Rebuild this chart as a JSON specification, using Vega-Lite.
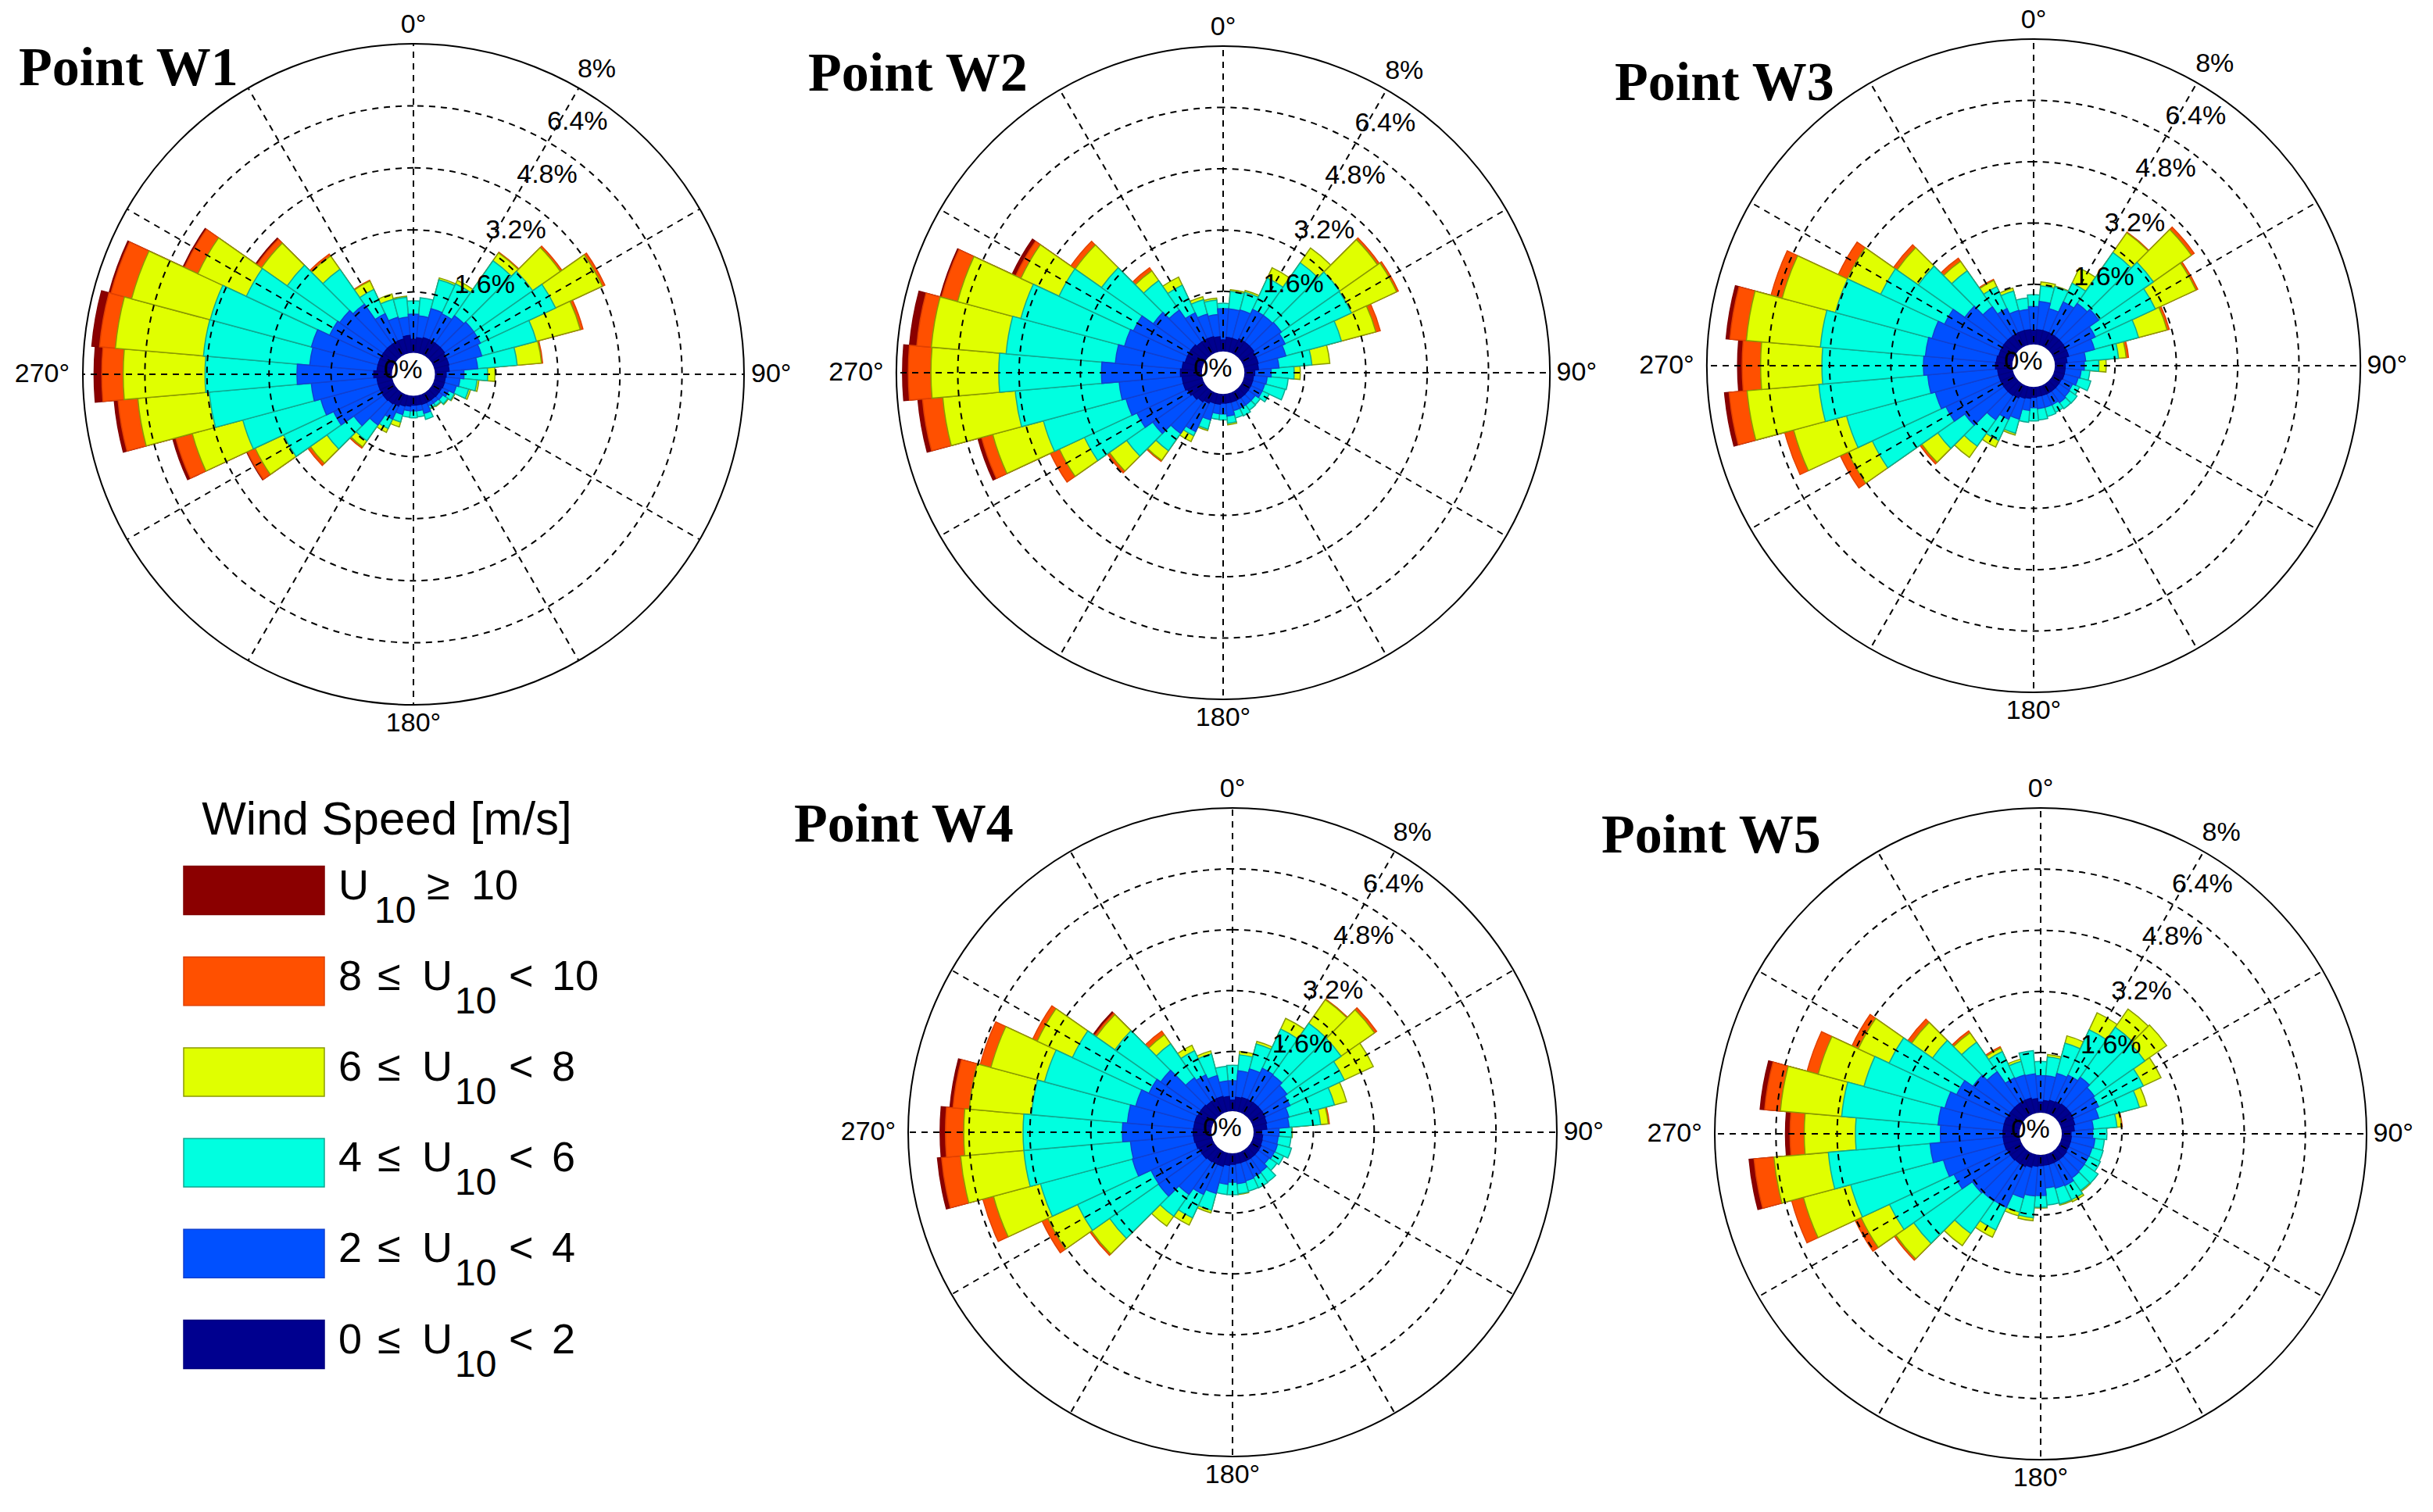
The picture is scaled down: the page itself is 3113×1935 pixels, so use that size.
{"$schema":"https://vega.github.io/schema/vega-lite/v6.json","background":"white","padding":0,"spacing":0,"bounds":"flush","align":"none","columns":3,
"config":{"view":{"stroke":null},"axis":{"disable":true},"legend":{"disable":true},"text":{"font":"Liberation Sans","fontSize":34,"color":"#000"},"title":{"font":"Liberation Serif","fontWeight":"bold","fontSize":70,"color":"#000","anchor":"start","frame":"group","baseline":"alphabetic"}},
"concat":[
{"width":1058,"height":958,"title":{"text":"Point W1","dx":24,"offset":-124},
"encoding":{"x":{"datum":0,"type":"quantitative","scale":{"domain":[-1,1],"range":[106,952]}},"y":{"datum":0,"type":"quantitative","scale":{"domain":[-1,1],"range":[902,56]}}},
"layer":[
{"data":{"name":"w1"},"transform":[{"bin":{"step":10,"anchor":5,"extent":[-5,355],"nice":false},"field":"d","as":["a0","a1"]}],"mark":{"type":"arc","strokeWidth":1.5},"encoding":{"theta":{"field":"a0","type":"quantitative","scale":{"domain":[0,360]}},"theta2":{"field":"a1"},"radius":{"field":"cum","type":"quantitative","stack":null,"scale":{"domain":[0,8],"range":[26,423]}},"radius2":{"datum":0},"color":{"field":"u","type":"ordinal","scale":{"domain":[0,2,4,6,8,10],"range":["#00008f","#0050ff","#00ffe0","#e0ff00","#ff5000","#8b0000"]}},"stroke":{"field":"u","type":"ordinal","scale":{"domain":[0,2,4,6,8,10],"range":["#000080","#1040d0","#10a890","#8a9a00","#e04000","#800000"]}},"order":{"field":"u","sort":"descending"}}},
{"data":{"name":"rings"},"mark":{"type":"arc","filled":false,"stroke":"#000","strokeWidth":2,"strokeDash":[8,7]},"encoding":{"radius":{"field":"v","type":"quantitative","stack":null}}},
{"data":{"name":"rim"},"mark":{"type":"arc","filled":false,"stroke":"#000","strokeWidth":2},"encoding":{"radius":{"field":"v","type":"quantitative","stack":null}}},
{"data":{"name":"spokes"},"mark":{"type":"rule","stroke":"#000","strokeWidth":2,"strokeDash":[8,7]},"encoding":{"x":{"field":"x1","type":"quantitative"},"x2":{"field":"x2"},"y":{"field":"y1","type":"quantitative"},"y2":{"field":"y2"}}},
{"data":{"name":"hole"},"mark":{"type":"arc","color":"#fff","radius":27.5,"radius2":0}},
{"data":{"name":"angles"},"mark":{"type":"text"},"encoding":{"theta":{"field":"a","type":"quantitative"},"radius":{"field":"r","type":"quantitative","stack":null},"text":{"field":"t"}}},
{"data":{"name":"pct"},"mark":{"type":"text"},"encoding":{"theta":{"field":"a","type":"quantitative"},"radius":{"field":"r","type":"quantitative","stack":null},"text":{"field":"t"}}}
]},
{"width":1014,"height":958,"title":{"text":"Point W2","dx":-24,"offset":-131},
"encoding":{"x":{"datum":0,"type":"quantitative","scale":{"domain":[-1,1],"range":[89,925]}},"y":{"datum":0,"type":"quantitative","scale":{"domain":[-1,1],"range":[895,59]}}},
"layer":[
{"data":{"name":"w2"},"transform":[{"bin":{"step":10,"anchor":5,"extent":[-5,355],"nice":false},"field":"d","as":["a0","a1"]}],"mark":{"type":"arc","strokeWidth":1.5},"encoding":{"theta":{"field":"a0","type":"quantitative","scale":{"domain":[0,360]}},"theta2":{"field":"a1"},"radius":{"field":"cum","type":"quantitative","stack":null,"scale":{"domain":[0,8],"range":[25.7,418]}},"radius2":{"datum":0},"color":{"field":"u","type":"ordinal","scale":{"domain":[0,2,4,6,8,10],"range":["#00008f","#0050ff","#00ffe0","#e0ff00","#ff5000","#8b0000"]}},"stroke":{"field":"u","type":"ordinal","scale":{"domain":[0,2,4,6,8,10],"range":["#000080","#1040d0","#10a890","#8a9a00","#e04000","#800000"]}},"order":{"field":"u","sort":"descending"}}},
{"data":{"name":"rings"},"mark":{"type":"arc","filled":false,"stroke":"#000","strokeWidth":2,"strokeDash":[8,7]},"encoding":{"radius":{"field":"v","type":"quantitative","stack":null}}},
{"data":{"name":"rim"},"mark":{"type":"arc","filled":false,"stroke":"#000","strokeWidth":2},"encoding":{"radius":{"field":"v","type":"quantitative","stack":null}}},
{"data":{"name":"spokes"},"mark":{"type":"rule","stroke":"#000","strokeWidth":2,"strokeDash":[8,7]},"encoding":{"x":{"field":"x1","type":"quantitative"},"x2":{"field":"x2"},"y":{"field":"y1","type":"quantitative"},"y2":{"field":"y2"}}},
{"data":{"name":"hole"},"mark":{"type":"arc","color":"#fff","radius":27.2,"radius2":0}},
{"data":{"name":"angles"},"mark":{"type":"text"},"encoding":{"theta":{"field":"a","type":"quantitative"},"radius":{"field":"r","type":"quantitative","stack":null},"text":{"field":"t"}}},
{"data":{"name":"pct"},"mark":{"type":"text"},"encoding":{"theta":{"field":"a","type":"quantitative"},"radius":{"field":"r","type":"quantitative","stack":null},"text":{"field":"t"}}}
]},
{"width":1041,"height":958,"title":{"text":"Point W3","dx":-6,"offset":-143},
"encoding":{"x":{"datum":0,"type":"quantitative","scale":{"domain":[-1,1],"range":[112,948]}},"y":{"datum":0,"type":"quantitative","scale":{"domain":[-1,1],"range":[886,50]}}},
"layer":[
{"data":{"name":"w3"},"transform":[{"bin":{"step":10,"anchor":5,"extent":[-5,355],"nice":false},"field":"d","as":["a0","a1"]}],"mark":{"type":"arc","strokeWidth":1.5},"encoding":{"theta":{"field":"a0","type":"quantitative","scale":{"domain":[0,360]}},"theta2":{"field":"a1"},"radius":{"field":"cum","type":"quantitative","stack":null,"scale":{"domain":[0,8],"range":[25.7,418]}},"radius2":{"datum":0},"color":{"field":"u","type":"ordinal","scale":{"domain":[0,2,4,6,8,10],"range":["#00008f","#0050ff","#00ffe0","#e0ff00","#ff5000","#8b0000"]}},"stroke":{"field":"u","type":"ordinal","scale":{"domain":[0,2,4,6,8,10],"range":["#000080","#1040d0","#10a890","#8a9a00","#e04000","#800000"]}},"order":{"field":"u","sort":"descending"}}},
{"data":{"name":"rings"},"mark":{"type":"arc","filled":false,"stroke":"#000","strokeWidth":2,"strokeDash":[8,7]},"encoding":{"radius":{"field":"v","type":"quantitative","stack":null}}},
{"data":{"name":"rim"},"mark":{"type":"arc","filled":false,"stroke":"#000","strokeWidth":2},"encoding":{"radius":{"field":"v","type":"quantitative","stack":null}}},
{"data":{"name":"spokes"},"mark":{"type":"rule","stroke":"#000","strokeWidth":2,"strokeDash":[8,7]},"encoding":{"x":{"field":"x1","type":"quantitative"},"x2":{"field":"x2"},"y":{"field":"y1","type":"quantitative"},"y2":{"field":"y2"}}},
{"data":{"name":"hole"},"mark":{"type":"arc","color":"#fff","radius":27.2,"radius2":0}},
{"data":{"name":"angles"},"mark":{"type":"text"},"encoding":{"theta":{"field":"a","type":"quantitative"},"radius":{"field":"r","type":"quantitative","stack":null},"text":{"field":"t"}}},
{"data":{"name":"pct"},"mark":{"type":"text"},"encoding":{"theta":{"field":"a","type":"quantitative"},"radius":{"field":"r","type":"quantitative","stack":null},"text":{"field":"t"}}}
]},
{"width":1058,"height":977,
"encoding":{"y":{"field":"u","type":"nominal","scale":{"type":"point","padding":0,"domain":["head",10,8,6,4,2,0],"range":[65.3,762.5]}}},
"layer":[
{"data":{"name":"swatches"},"mark":{"type":"rect","height":62,"strokeWidth":1.5},"encoding":{"x":{"datum":235,"type":"quantitative","scale":{"domain":[0,1058],"range":[0,1058],"nice":false}},"x2":{"datum":415},"color":{"field":"u","type":"ordinal","scale":{"domain":[0,2,4,6,8,10],"range":["#00008f","#0050ff","#00ffe0","#e0ff00","#ff5000","#8b0000"]}},"stroke":{"field":"u","type":"ordinal","scale":{"domain":[0,2,4,6,8,10],"range":["#000080","#1040d0","#10a890","#8a9a00","#e04000","#800000"]}}}},
{"data":{"values":[{"u":"head","t":"Wind Speed [m/s]"}]},"mark":{"type":"text","fontSize":60,"dy":27},"encoding":{"x":{"datum":495,"type":"quantitative"},"text":{"field":"t"}}},
{"data":{"name":"top"},"mark":{"type":"text","fontSize":54,"align":"left","baseline":"alphabetic","dy":11,"text":"U"},"encoding":{"x":{"datum":433,"type":"quantitative"}}},
{"data":{"name":"top"},"mark":{"type":"text","fontSize":48,"align":"left","baseline":"alphabetic","dy":41,"text":"10"},"encoding":{"x":{"datum":479,"type":"quantitative"}}},
{"data":{"name":"top"},"mark":{"type":"text","fontSize":54,"align":"left","baseline":"alphabetic","dy":11,"text":"≥"},"encoding":{"x":{"datum":546,"type":"quantitative"}}},
{"data":{"name":"top"},"mark":{"type":"text","fontSize":54,"align":"left","baseline":"alphabetic","dy":11},"encoding":{"x":{"datum":603,"type":"quantitative"},"text":{"field":"hi"}}},
{"data":{"name":"ranges"},"mark":{"type":"text","fontSize":54,"align":"left","baseline":"alphabetic","dy":11},"encoding":{"x":{"datum":433,"type":"quantitative"},"text":{"field":"lo"}}},
{"data":{"name":"ranges"},"mark":{"type":"text","fontSize":54,"align":"left","baseline":"alphabetic","dy":11,"text":"≤"},"encoding":{"x":{"datum":483,"type":"quantitative"}}},
{"data":{"name":"ranges"},"mark":{"type":"text","fontSize":54,"align":"left","baseline":"alphabetic","dy":11,"text":"U"},"encoding":{"x":{"datum":540,"type":"quantitative"}}},
{"data":{"name":"ranges"},"mark":{"type":"text","fontSize":48,"align":"left","baseline":"alphabetic","dy":41,"text":"10"},"encoding":{"x":{"datum":582,"type":"quantitative"}}},
{"data":{"name":"ranges"},"mark":{"type":"text","fontSize":54,"align":"left","baseline":"alphabetic","dy":11,"text":"<"},"encoding":{"x":{"datum":651,"type":"quantitative"}}},
{"data":{"name":"ranges"},"mark":{"type":"text","fontSize":54,"align":"left","baseline":"alphabetic","dy":11},"encoding":{"x":{"datum":706,"type":"quantitative"},"text":{"field":"hi"}}}
]},
{"width":1014,"height":977,"title":{"text":"Point W4","dx":-42,"offset":-134},
"encoding":{"x":{"datum":0,"type":"quantitative","scale":{"domain":[-1,1],"range":[104,934]}},"y":{"datum":0,"type":"quantitative","scale":{"domain":[-1,1],"range":[906,76]}}},
"layer":[
{"data":{"name":"w4"},"transform":[{"bin":{"step":10,"anchor":5,"extent":[-5,355],"nice":false},"field":"d","as":["a0","a1"]}],"mark":{"type":"arc","strokeWidth":1.5},"encoding":{"theta":{"field":"a0","type":"quantitative","scale":{"domain":[0,360]}},"theta2":{"field":"a1"},"radius":{"field":"cum","type":"quantitative","stack":null,"scale":{"domain":[0,8],"range":[25.5,415]}},"radius2":{"datum":0},"color":{"field":"u","type":"ordinal","scale":{"domain":[0,2,4,6,8,10],"range":["#00008f","#0050ff","#00ffe0","#e0ff00","#ff5000","#8b0000"]}},"stroke":{"field":"u","type":"ordinal","scale":{"domain":[0,2,4,6,8,10],"range":["#000080","#1040d0","#10a890","#8a9a00","#e04000","#800000"]}},"order":{"field":"u","sort":"descending"}}},
{"data":{"name":"rings"},"mark":{"type":"arc","filled":false,"stroke":"#000","strokeWidth":2,"strokeDash":[8,7]},"encoding":{"radius":{"field":"v","type":"quantitative","stack":null}}},
{"data":{"name":"rim"},"mark":{"type":"arc","filled":false,"stroke":"#000","strokeWidth":2},"encoding":{"radius":{"field":"v","type":"quantitative","stack":null}}},
{"data":{"name":"spokes"},"mark":{"type":"rule","stroke":"#000","strokeWidth":2,"strokeDash":[8,7]},"encoding":{"x":{"field":"x1","type":"quantitative"},"x2":{"field":"x2"},"y":{"field":"y1","type":"quantitative"},"y2":{"field":"y2"}}},
{"data":{"name":"hole"},"mark":{"type":"arc","color":"#fff","radius":27,"radius2":0}},
{"data":{"name":"angles"},"mark":{"type":"text"},"encoding":{"theta":{"field":"a","type":"quantitative"},"radius":{"field":"r","type":"quantitative","stack":null},"text":{"field":"t"}}},
{"data":{"name":"pct"},"mark":{"type":"text"},"encoding":{"theta":{"field":"a","type":"quantitative"},"radius":{"field":"r","type":"quantitative","stack":null},"text":{"field":"t"}}}
]},
{"width":1041,"height":977,"title":{"text":"Point W5","dx":-23,"offset":-148},
"encoding":{"x":{"datum":0,"type":"quantitative","scale":{"domain":[-1,1],"range":[122,956]}},"y":{"datum":0,"type":"quantitative","scale":{"domain":[-1,1],"range":[910,76]}}},
"layer":[
{"data":{"name":"w5"},"transform":[{"bin":{"step":10,"anchor":5,"extent":[-5,355],"nice":false},"field":"d","as":["a0","a1"]}],"mark":{"type":"arc","strokeWidth":1.5},"encoding":{"theta":{"field":"a0","type":"quantitative","scale":{"domain":[0,360]}},"theta2":{"field":"a1"},"radius":{"field":"cum","type":"quantitative","stack":null,"scale":{"domain":[0,8],"range":[25.6,417]}},"radius2":{"datum":0},"color":{"field":"u","type":"ordinal","scale":{"domain":[0,2,4,6,8,10],"range":["#00008f","#0050ff","#00ffe0","#e0ff00","#ff5000","#8b0000"]}},"stroke":{"field":"u","type":"ordinal","scale":{"domain":[0,2,4,6,8,10],"range":["#000080","#1040d0","#10a890","#8a9a00","#e04000","#800000"]}},"order":{"field":"u","sort":"descending"}}},
{"data":{"name":"rings"},"mark":{"type":"arc","filled":false,"stroke":"#000","strokeWidth":2,"strokeDash":[8,7]},"encoding":{"radius":{"field":"v","type":"quantitative","stack":null}}},
{"data":{"name":"rim"},"mark":{"type":"arc","filled":false,"stroke":"#000","strokeWidth":2},"encoding":{"radius":{"field":"v","type":"quantitative","stack":null}}},
{"data":{"name":"spokes"},"mark":{"type":"rule","stroke":"#000","strokeWidth":2,"strokeDash":[8,7]},"encoding":{"x":{"field":"x1","type":"quantitative"},"x2":{"field":"x2"},"y":{"field":"y1","type":"quantitative"},"y2":{"field":"y2"}}},
{"data":{"name":"hole"},"mark":{"type":"arc","color":"#fff","radius":27.1,"radius2":0}},
{"data":{"name":"angles"},"mark":{"type":"text"},"encoding":{"theta":{"field":"a","type":"quantitative"},"radius":{"field":"r","type":"quantitative","stack":null},"text":{"field":"t"}}},
{"data":{"name":"pct"},"mark":{"type":"text"},"encoding":{"theta":{"field":"a","type":"quantitative"},"radius":{"field":"r","type":"quantitative","stack":null},"text":{"field":"t"}}}
]}
],
"datasets":{
"rings":[{"v":1.6},{"v":3.2},{"v":4.8},{"v":6.4}],
"rim":[{"v":8}],
"hole":[{"v":0}],
"spokes":[{"x1":0,"y1":0.0615,"x2":0,"y2":1},{"x1":0.0308,"y1":0.0533,"x2":0.5,"y2":0.866},{"x1":0.0533,"y1":0.0308,"x2":0.866,"y2":0.5},{"x1":0.0615,"y1":0,"x2":1,"y2":0},{"x1":0.0533,"y1":-0.0308,"x2":0.866,"y2":-0.5},{"x1":0.0308,"y1":-0.0533,"x2":0.5,"y2":-0.866},{"x1":0,"y1":-0.0615,"x2":0,"y2":-1},{"x1":-0.0308,"y1":-0.0533,"x2":-0.5,"y2":-0.866},{"x1":-0.0533,"y1":-0.0308,"x2":-0.866,"y2":-0.5},{"x1":-0.0615,"y1":0,"x2":-1,"y2":0},{"x1":-0.0533,"y1":0.0308,"x2":-0.866,"y2":0.5},{"x1":-0.0308,"y1":0.0533,"x2":-0.5,"y2":0.866}],
"angles":[{"a":0,"t":"0°","r":8.49},{"a":90,"t":"90°","r":8.7},{"a":180,"t":"180°","r":8.49},{"a":270,"t":"270°","r":9.05}],
"pct":[{"t":"0%","a":291,"r":-0.24},{"t":"1.6%","a":38.6,"r":2.42},{"t":"3.2%","a":35.4,"r":4.03},{"t":"4.8%","a":33.8,"r":5.67},{"t":"6.4%","a":33,"r":7.24},{"t":"8%","a":31,"r":8.65}],
"swatches":[{"u":10},{"u":8},{"u":6},{"u":4},{"u":2},{"u":0}],
"top":[{"u":10,"hi":"10"}],
"ranges":[{"u":8,"lo":"8","hi":"10"},{"u":6,"lo":"6","hi":"8"},{"u":4,"lo":"4","hi":"6"},{"u":2,"lo":"2","hi":"4"},{"u":0,"lo":"0","hi":"2"}],
"w1":[{"d":0,"u":0,"cum":0.38},{"d":0,"u":2,"cum":1.03},{"d":0,"u":4,"cum":1.37},{"d":10,"u":0,"cum":0.42},{"d":10,"u":2,"cum":0.99},{"d":10,"u":4,"cum":1.46},{"d":20,"u":0,"cum":0.45},{"d":20,"u":2,"cum":1.23},{"d":20,"u":4,"cum":2.0},{"d":20,"u":6,"cum":2.05},{"d":30,"u":0,"cum":0.45},{"d":30,"u":2,"cum":1.2},{"d":30,"u":4,"cum":2.05},{"d":30,"u":6,"cum":2.15},{"d":40,"u":0,"cum":0.45},{"d":40,"u":2,"cum":1.32},{"d":40,"u":4,"cum":3.05},{"d":40,"u":6,"cum":3.3},{"d":40,"u":8,"cum":3.32},{"d":50,"u":0,"cum":0.45},{"d":50,"u":2,"cum":1.38},{"d":50,"u":4,"cum":3.23},{"d":50,"u":6,"cum":4.1},{"d":50,"u":8,"cum":4.15},{"d":60,"u":0,"cum":0.42},{"d":60,"u":2,"cum":1.38},{"d":60,"u":4,"cum":3.52},{"d":60,"u":6,"cum":4.85},{"d":60,"u":8,"cum":4.92},{"d":70,"u":0,"cum":0.42},{"d":70,"u":2,"cum":1.3},{"d":70,"u":4,"cum":2.76},{"d":70,"u":6,"cum":3.93},{"d":70,"u":8,"cum":4.0},{"d":80,"u":0,"cum":0.4},{"d":80,"u":2,"cum":1.14},{"d":80,"u":4,"cum":2.16},{"d":80,"u":6,"cum":2.79},{"d":80,"u":8,"cum":2.82},{"d":90,"u":0,"cum":0.32},{"d":90,"u":2,"cum":0.78},{"d":90,"u":4,"cum":1.39},{"d":90,"u":6,"cum":1.58},{"d":100,"u":0,"cum":0.3},{"d":100,"u":2,"cum":0.68},{"d":100,"u":4,"cum":1.12},{"d":100,"u":6,"cum":1.17},{"d":110,"u":0,"cum":0.3},{"d":110,"u":2,"cum":0.62},{"d":110,"u":4,"cum":0.95},{"d":110,"u":6,"cum":1.0},{"d":120,"u":0,"cum":0.28},{"d":120,"u":2,"cum":0.48},{"d":120,"u":4,"cum":0.64},{"d":120,"u":6,"cum":0.66},{"d":130,"u":0,"cum":0.28},{"d":130,"u":2,"cum":0.4},{"d":130,"u":4,"cum":0.56},{"d":130,"u":6,"cum":0.58},{"d":140,"u":0,"cum":0.27},{"d":140,"u":2,"cum":0.38},{"d":140,"u":4,"cum":0.47},{"d":140,"u":6,"cum":0.49},{"d":150,"u":0,"cum":0.27},{"d":150,"u":2,"cum":0.38},{"d":150,"u":4,"cum":0.45},{"d":150,"u":6,"cum":0.47},{"d":160,"u":0,"cum":0.28},{"d":160,"u":2,"cum":0.52},{"d":160,"u":4,"cum":0.68},{"d":170,"u":0,"cum":0.27},{"d":170,"u":2,"cum":0.42},{"d":170,"u":4,"cum":0.58},{"d":180,"u":0,"cum":0.27},{"d":180,"u":2,"cum":0.42},{"d":180,"u":4,"cum":0.6},{"d":190,"u":0,"cum":0.3},{"d":190,"u":2,"cum":0.42},{"d":190,"u":4,"cum":0.59},{"d":200,"u":0,"cum":0.32},{"d":200,"u":2,"cum":0.55},{"d":200,"u":4,"cum":0.75},{"d":200,"u":6,"cum":0.88},{"d":210,"u":0,"cum":0.38},{"d":210,"u":2,"cum":0.75},{"d":210,"u":4,"cum":1.02},{"d":210,"u":6,"cum":1.13},{"d":220,"u":0,"cum":0.4},{"d":220,"u":2,"cum":1.07},{"d":220,"u":4,"cum":1.57},{"d":220,"u":6,"cum":1.76},{"d":220,"u":8,"cum":1.8},{"d":230,"u":0,"cum":0.42},{"d":230,"u":2,"cum":1.35},{"d":230,"u":4,"cum":2.2},{"d":230,"u":6,"cum":2.72},{"d":230,"u":8,"cum":2.8},{"d":240,"u":0,"cum":0.42},{"d":240,"u":2,"cum":1.75},{"d":240,"u":4,"cum":3.17},{"d":240,"u":6,"cum":3.98},{"d":240,"u":8,"cum":4.2},{"d":240,"u":10,"cum":4.22},{"d":250,"u":0,"cum":0.42},{"d":250,"u":2,"cum":1.95},{"d":250,"u":4,"cum":4.03},{"d":250,"u":6,"cum":5.38},{"d":250,"u":8,"cum":5.82},{"d":250,"u":10,"cum":5.9},{"d":260,"u":0,"cum":0.42},{"d":260,"u":2,"cum":2.12},{"d":260,"u":4,"cum":4.76},{"d":260,"u":6,"cum":6.61},{"d":260,"u":8,"cum":7.12},{"d":260,"u":10,"cum":7.22},{"d":270,"u":0,"cum":0.5},{"d":270,"u":2,"cum":2.48},{"d":270,"u":4,"cum":4.85},{"d":270,"u":6,"cum":6.96},{"d":270,"u":8,"cum":7.51},{"d":270,"u":10,"cum":7.71},{"d":280,"u":0,"cum":0.42},{"d":280,"u":2,"cum":2.16},{"d":280,"u":4,"cum":4.91},{"d":280,"u":6,"cum":7.19},{"d":280,"u":8,"cum":7.6},{"d":280,"u":10,"cum":7.8},{"d":290,"u":0,"cum":0.42},{"d":290,"u":2,"cum":2.2},{"d":290,"u":4,"cum":4.9},{"d":290,"u":6,"cum":7.0},{"d":290,"u":8,"cum":7.55},{"d":290,"u":10,"cum":7.6},{"d":300,"u":0,"cum":0.42},{"d":300,"u":2,"cum":1.86},{"d":300,"u":4,"cum":4.23},{"d":300,"u":6,"cum":5.61},{"d":300,"u":8,"cum":5.99},{"d":300,"u":10,"cum":6.03},{"d":310,"u":0,"cum":0.42},{"d":310,"u":2,"cum":1.8},{"d":310,"u":4,"cum":3.45},{"d":310,"u":6,"cum":4.26},{"d":310,"u":8,"cum":4.4},{"d":310,"u":10,"cum":4.44},{"d":320,"u":0,"cum":0.42},{"d":320,"u":2,"cum":1.68},{"d":320,"u":4,"cum":2.78},{"d":320,"u":6,"cum":3.2},{"d":320,"u":8,"cum":3.26},{"d":330,"u":0,"cum":0.42},{"d":330,"u":2,"cum":1.2},{"d":330,"u":4,"cum":1.89},{"d":330,"u":6,"cum":2.13},{"d":330,"u":8,"cum":2.15},{"d":340,"u":0,"cum":0.42},{"d":340,"u":2,"cum":1.0},{"d":340,"u":4,"cum":1.48},{"d":340,"u":6,"cum":1.62},{"d":350,"u":0,"cum":0.48},{"d":350,"u":2,"cum":0.96},{"d":350,"u":4,"cum":1.47},{"d":350,"u":6,"cum":1.5}],
"w2":[{"d":0,"u":0,"cum":0.33},{"d":0,"u":2,"cum":1.15},{"d":0,"u":4,"cum":1.29},{"d":10,"u":0,"cum":0.4},{"d":10,"u":2,"cum":1.15},{"d":10,"u":4,"cum":1.61},{"d":10,"u":6,"cum":1.65},{"d":20,"u":0,"cum":0.4},{"d":20,"u":2,"cum":1.17},{"d":20,"u":4,"cum":1.65},{"d":20,"u":6,"cum":1.7},{"d":30,"u":0,"cum":0.45},{"d":30,"u":2,"cum":1.3},{"d":30,"u":4,"cum":2.2},{"d":30,"u":6,"cum":2.5},{"d":40,"u":0,"cum":0.45},{"d":40,"u":2,"cum":1.3},{"d":40,"u":4,"cum":2.98},{"d":40,"u":6,"cum":3.45},{"d":50,"u":0,"cum":0.45},{"d":50,"u":2,"cum":1.33},{"d":50,"u":4,"cum":3.19},{"d":50,"u":6,"cum":4.39},{"d":50,"u":8,"cum":4.45},{"d":60,"u":0,"cum":0.42},{"d":60,"u":2,"cum":1.26},{"d":60,"u":4,"cum":3.17},{"d":60,"u":6,"cum":4.47},{"d":60,"u":8,"cum":4.52},{"d":70,"u":0,"cum":0.42},{"d":70,"u":2,"cum":1.17},{"d":70,"u":4,"cum":2.67},{"d":70,"u":6,"cum":3.6},{"d":70,"u":8,"cum":3.72},{"d":80,"u":0,"cum":0.4},{"d":80,"u":2,"cum":0.94},{"d":80,"u":4,"cum":1.8},{"d":80,"u":6,"cum":2.27},{"d":90,"u":0,"cum":0.3},{"d":90,"u":2,"cum":0.73},{"d":90,"u":4,"cum":1.33},{"d":90,"u":6,"cum":1.49},{"d":100,"u":0,"cum":0.27},{"d":100,"u":2,"cum":0.63},{"d":100,"u":4,"cum":1.18},{"d":110,"u":0,"cum":0.27},{"d":110,"u":2,"cum":0.6},{"d":110,"u":4,"cum":1.15},{"d":120,"u":0,"cum":0.27},{"d":120,"u":2,"cum":0.6},{"d":120,"u":4,"cum":0.8},{"d":130,"u":0,"cum":0.27},{"d":130,"u":2,"cum":0.5},{"d":130,"u":4,"cum":0.66},{"d":140,"u":0,"cum":0.27},{"d":140,"u":2,"cum":0.5},{"d":140,"u":4,"cum":0.67},{"d":150,"u":0,"cum":0.27},{"d":150,"u":2,"cum":0.5},{"d":150,"u":4,"cum":0.72},{"d":160,"u":0,"cum":0.27},{"d":160,"u":2,"cum":0.5},{"d":160,"u":4,"cum":0.7},{"d":170,"u":0,"cum":0.27},{"d":170,"u":2,"cum":0.61},{"d":170,"u":4,"cum":0.8},{"d":170,"u":6,"cum":0.84},{"d":180,"u":0,"cum":0.27},{"d":180,"u":2,"cum":0.55},{"d":180,"u":4,"cum":0.71},{"d":190,"u":0,"cum":0.3},{"d":190,"u":2,"cum":0.55},{"d":190,"u":4,"cum":0.7},{"d":200,"u":0,"cum":0.3},{"d":200,"u":2,"cum":0.75},{"d":200,"u":4,"cum":1.0},{"d":200,"u":6,"cum":1.04},{"d":210,"u":0,"cum":0.35},{"d":210,"u":2,"cum":1.17},{"d":210,"u":4,"cum":1.29},{"d":210,"u":6,"cum":1.46},{"d":220,"u":0,"cum":0.4},{"d":220,"u":2,"cum":1.41},{"d":220,"u":4,"cum":1.96},{"d":220,"u":6,"cum":2.27},{"d":220,"u":8,"cum":2.3},{"d":230,"u":0,"cum":0.45},{"d":230,"u":2,"cum":1.72},{"d":230,"u":4,"cum":2.55},{"d":230,"u":6,"cum":3.1},{"d":230,"u":8,"cum":3.17},{"d":240,"u":0,"cum":0.5},{"d":240,"u":2,"cum":1.96},{"d":240,"u":4,"cum":3.47},{"d":240,"u":6,"cum":4.19},{"d":240,"u":8,"cum":4.45},{"d":250,"u":0,"cum":0.55},{"d":250,"u":2,"cum":2.1},{"d":250,"u":4,"cum":4.33},{"d":250,"u":6,"cum":5.7},{"d":250,"u":8,"cum":6.0},{"d":250,"u":10,"cum":6.1},{"d":260,"u":0,"cum":0.55},{"d":260,"u":2,"cum":2.2},{"d":260,"u":4,"cum":4.92},{"d":260,"u":6,"cum":6.82},{"d":260,"u":8,"cum":7.35},{"d":260,"u":10,"cum":7.47},{"d":270,"u":0,"cum":0.59},{"d":270,"u":2,"cum":2.65},{"d":270,"u":4,"cum":5.33},{"d":270,"u":6,"cum":7.1},{"d":270,"u":8,"cum":7.69},{"d":270,"u":10,"cum":7.84},{"d":280,"u":0,"cum":0.55},{"d":280,"u":2,"cum":2.3},{"d":280,"u":4,"cum":5.16},{"d":280,"u":6,"cum":7.12},{"d":280,"u":8,"cum":7.5},{"d":280,"u":10,"cum":7.69},{"d":290,"u":0,"cum":0.5},{"d":290,"u":2,"cum":2.14},{"d":290,"u":4,"cum":4.94},{"d":290,"u":6,"cum":6.65},{"d":290,"u":8,"cum":7.08},{"d":290,"u":10,"cum":7.12},{"d":300,"u":0,"cum":0.5},{"d":300,"u":2,"cum":2.06},{"d":300,"u":4,"cum":4.2},{"d":300,"u":6,"cum":5.3},{"d":300,"u":8,"cum":5.45},{"d":300,"u":10,"cum":5.55},{"d":310,"u":0,"cum":0.5},{"d":310,"u":2,"cum":1.7},{"d":310,"u":4,"cum":3.35},{"d":310,"u":6,"cum":4.19},{"d":310,"u":8,"cum":4.33},{"d":320,"u":0,"cum":0.45},{"d":320,"u":2,"cum":1.47},{"d":320,"u":4,"cum":2.41},{"d":320,"u":6,"cum":2.72},{"d":320,"u":8,"cum":2.82},{"d":330,"u":0,"cum":0.45},{"d":330,"u":2,"cum":1.2},{"d":330,"u":4,"cum":2.0},{"d":330,"u":6,"cum":2.23},{"d":340,"u":0,"cum":0.45},{"d":340,"u":2,"cum":1.06},{"d":340,"u":4,"cum":1.45},{"d":340,"u":6,"cum":1.53},{"d":350,"u":0,"cum":0.42},{"d":350,"u":2,"cum":1.0},{"d":350,"u":4,"cum":1.38},{"d":350,"u":6,"cum":1.43}],
"w3":[{"d":0,"u":0,"cum":0.4},{"d":0,"u":2,"cum":1.02},{"d":0,"u":4,"cum":1.33},{"d":10,"u":0,"cum":0.42},{"d":10,"u":2,"cum":1.16},{"d":10,"u":4,"cum":1.57},{"d":10,"u":6,"cum":1.67},{"d":20,"u":0,"cum":0.42},{"d":20,"u":2,"cum":1.02},{"d":20,"u":4,"cum":1.61},{"d":20,"u":6,"cum":1.63},{"d":30,"u":0,"cum":0.42},{"d":30,"u":2,"cum":1.31},{"d":30,"u":4,"cum":1.85},{"d":30,"u":6,"cum":2.29},{"d":40,"u":0,"cum":0.42},{"d":40,"u":2,"cum":1.46},{"d":40,"u":4,"cum":3.08},{"d":40,"u":6,"cum":3.71},{"d":40,"u":8,"cum":3.73},{"d":50,"u":0,"cum":0.42},{"d":50,"u":2,"cum":1.55},{"d":50,"u":4,"cum":3.29},{"d":50,"u":6,"cum":4.5},{"d":50,"u":8,"cum":4.59},{"d":60,"u":0,"cum":0.42},{"d":60,"u":2,"cum":1.25},{"d":60,"u":4,"cum":2.98},{"d":60,"u":6,"cum":4.15},{"d":60,"u":8,"cum":4.2},{"d":70,"u":0,"cum":0.42},{"d":70,"u":2,"cum":1.12},{"d":70,"u":4,"cum":2.31},{"d":70,"u":6,"cum":3.08},{"d":70,"u":8,"cum":3.14},{"d":80,"u":0,"cum":0.35},{"d":80,"u":2,"cum":0.84},{"d":80,"u":4,"cum":1.7},{"d":80,"u":6,"cum":1.9},{"d":80,"u":8,"cum":1.96},{"d":90,"u":0,"cum":0.3},{"d":90,"u":2,"cum":0.8},{"d":90,"u":4,"cum":1.18},{"d":90,"u":6,"cum":1.37},{"d":100,"u":0,"cum":0.3},{"d":100,"u":2,"cum":0.72},{"d":100,"u":4,"cum":0.95},{"d":110,"u":0,"cum":0.3},{"d":110,"u":2,"cum":0.68},{"d":110,"u":4,"cum":1.02},{"d":120,"u":0,"cum":0.28},{"d":120,"u":2,"cum":0.6},{"d":120,"u":4,"cum":0.8},{"d":130,"u":0,"cum":0.28},{"d":130,"u":2,"cum":0.62},{"d":130,"u":4,"cum":0.86},{"d":140,"u":0,"cum":0.28},{"d":140,"u":2,"cum":0.65},{"d":140,"u":4,"cum":0.85},{"d":150,"u":0,"cum":0.28},{"d":150,"u":2,"cum":0.6},{"d":150,"u":4,"cum":0.82},{"d":160,"u":0,"cum":0.28},{"d":160,"u":2,"cum":0.6},{"d":160,"u":4,"cum":0.85},{"d":170,"u":0,"cum":0.28},{"d":170,"u":2,"cum":0.6},{"d":170,"u":4,"cum":0.9},{"d":180,"u":0,"cum":0.3},{"d":180,"u":2,"cum":0.57},{"d":180,"u":4,"cum":0.92},{"d":190,"u":0,"cum":0.33},{"d":190,"u":2,"cum":0.65},{"d":190,"u":4,"cum":0.96},{"d":200,"u":0,"cum":0.35},{"d":200,"u":2,"cum":0.92},{"d":200,"u":4,"cum":1.3},{"d":200,"u":6,"cum":1.35},{"d":210,"u":0,"cum":0.4},{"d":210,"u":2,"cum":1.02},{"d":210,"u":4,"cum":1.63},{"d":210,"u":6,"cum":1.82},{"d":220,"u":0,"cum":0.42},{"d":220,"u":2,"cum":1.2},{"d":220,"u":4,"cum":2.04},{"d":220,"u":6,"cum":2.4},{"d":230,"u":0,"cum":0.42},{"d":230,"u":2,"cum":1.67},{"d":230,"u":4,"cum":2.53},{"d":230,"u":6,"cum":3.04},{"d":230,"u":8,"cum":3.1},{"d":240,"u":0,"cum":0.42},{"d":240,"u":2,"cum":2.0},{"d":240,"u":4,"cum":4.12},{"d":240,"u":6,"cum":4.82},{"d":240,"u":8,"cum":5.04},{"d":250,"u":0,"cum":0.42},{"d":250,"u":2,"cum":2.13},{"d":250,"u":4,"cum":4.53},{"d":250,"u":6,"cum":5.96},{"d":250,"u":8,"cum":6.2},{"d":260,"u":0,"cum":0.42},{"d":260,"u":2,"cum":2.25},{"d":260,"u":4,"cum":5.1},{"d":260,"u":6,"cum":6.98},{"d":260,"u":8,"cum":7.45},{"d":260,"u":10,"cum":7.57},{"d":270,"u":0,"cum":0.47},{"d":270,"u":2,"cum":2.35},{"d":270,"u":4,"cum":5.0},{"d":270,"u":6,"cum":6.6},{"d":270,"u":8,"cum":7.08},{"d":270,"u":10,"cum":7.2},{"d":280,"u":0,"cum":0.45},{"d":280,"u":2,"cum":2.31},{"d":280,"u":4,"cum":5.06},{"d":280,"u":6,"cum":7.0},{"d":280,"u":8,"cum":7.43},{"d":280,"u":10,"cum":7.53},{"d":290,"u":0,"cum":0.42},{"d":290,"u":2,"cum":2.22},{"d":290,"u":4,"cum":4.83},{"d":290,"u":6,"cum":6.27},{"d":290,"u":8,"cum":6.57},{"d":300,"u":0,"cum":0.42},{"d":300,"u":2,"cum":2.04},{"d":300,"u":4,"cum":3.88},{"d":300,"u":6,"cum":4.84},{"d":300,"u":8,"cum":5.1},{"d":310,"u":0,"cum":0.42},{"d":310,"u":2,"cum":1.67},{"d":310,"u":4,"cum":3.15},{"d":310,"u":6,"cum":3.83},{"d":310,"u":8,"cum":3.94},{"d":320,"u":0,"cum":0.42},{"d":320,"u":2,"cum":1.35},{"d":320,"u":4,"cum":2.5},{"d":320,"u":6,"cum":2.8},{"d":320,"u":8,"cum":2.9},{"d":330,"u":0,"cum":0.42},{"d":330,"u":2,"cum":1.12},{"d":330,"u":4,"cum":1.75},{"d":330,"u":6,"cum":1.93},{"d":330,"u":8,"cum":1.96},{"d":340,"u":0,"cum":0.42},{"d":340,"u":2,"cum":0.97},{"d":340,"u":4,"cum":1.49},{"d":340,"u":6,"cum":1.57},{"d":350,"u":0,"cum":0.42},{"d":350,"u":2,"cum":0.95},{"d":350,"u":4,"cum":1.25}],
"w4":[{"d":0,"u":0,"cum":0.32},{"d":0,"u":2,"cum":0.83},{"d":0,"u":4,"cum":1.24},{"d":10,"u":0,"cum":0.4},{"d":10,"u":2,"cum":1.1},{"d":10,"u":4,"cum":1.52},{"d":10,"u":6,"cum":1.61},{"d":20,"u":0,"cum":0.42},{"d":20,"u":2,"cum":1.2},{"d":20,"u":4,"cum":1.88},{"d":20,"u":6,"cum":1.95},{"d":30,"u":0,"cum":0.42},{"d":30,"u":2,"cum":1.33},{"d":30,"u":4,"cum":2.47},{"d":30,"u":6,"cum":2.78},{"d":40,"u":0,"cum":0.42},{"d":40,"u":2,"cum":1.31},{"d":40,"u":4,"cum":2.97},{"d":40,"u":6,"cum":3.73},{"d":40,"u":8,"cum":3.75},{"d":50,"u":0,"cum":0.42},{"d":50,"u":2,"cum":1.22},{"d":50,"u":4,"cum":2.96},{"d":50,"u":6,"cum":4.03},{"d":50,"u":8,"cum":4.1},{"d":60,"u":0,"cum":0.42},{"d":60,"u":2,"cum":1.14},{"d":60,"u":4,"cum":2.72},{"d":60,"u":6,"cum":3.56},{"d":70,"u":0,"cum":0.4},{"d":70,"u":2,"cum":1.01},{"d":70,"u":4,"cum":2.25},{"d":70,"u":6,"cum":2.58},{"d":80,"u":0,"cum":0.38},{"d":80,"u":2,"cum":0.97},{"d":80,"u":4,"cum":1.8},{"d":80,"u":6,"cum":2.0},{"d":80,"u":8,"cum":2.03},{"d":90,"u":0,"cum":0.24},{"d":90,"u":2,"cum":0.7},{"d":90,"u":4,"cum":1.03},{"d":90,"u":6,"cum":1.05},{"d":100,"u":0,"cum":0.27},{"d":100,"u":2,"cum":0.68},{"d":100,"u":4,"cum":1.02},{"d":110,"u":0,"cum":0.28},{"d":110,"u":2,"cum":0.7},{"d":110,"u":4,"cum":1.08},{"d":120,"u":0,"cum":0.3},{"d":120,"u":2,"cum":0.69},{"d":120,"u":4,"cum":0.96},{"d":130,"u":0,"cum":0.3},{"d":130,"u":2,"cum":0.65},{"d":130,"u":4,"cum":0.9},{"d":140,"u":0,"cum":0.3},{"d":140,"u":2,"cum":0.75},{"d":140,"u":4,"cum":1.08},{"d":150,"u":0,"cum":0.3},{"d":150,"u":2,"cum":0.77},{"d":150,"u":4,"cum":1.09},{"d":160,"u":0,"cum":0.3},{"d":160,"u":2,"cum":0.8},{"d":160,"u":4,"cum":1.08},{"d":170,"u":0,"cum":0.3},{"d":170,"u":2,"cum":0.83},{"d":170,"u":4,"cum":1.1},{"d":170,"u":6,"cum":1.12},{"d":180,"u":0,"cum":0.32},{"d":180,"u":2,"cum":0.79},{"d":180,"u":4,"cum":1.12},{"d":190,"u":0,"cum":0.35},{"d":190,"u":2,"cum":0.85},{"d":190,"u":4,"cum":1.12},{"d":200,"u":0,"cum":0.4},{"d":200,"u":2,"cum":1.14},{"d":200,"u":4,"cum":1.6},{"d":200,"u":6,"cum":1.67},{"d":210,"u":0,"cum":0.4},{"d":210,"u":2,"cum":1.28},{"d":210,"u":4,"cum":1.96},{"d":210,"u":6,"cum":2.17},{"d":220,"u":0,"cum":0.42},{"d":220,"u":2,"cum":1.47},{"d":220,"u":4,"cum":2.17},{"d":220,"u":6,"cum":2.49},{"d":230,"u":0,"cum":0.45},{"d":230,"u":2,"cum":1.85},{"d":230,"u":4,"cum":3.42},{"d":230,"u":6,"cum":4.0},{"d":230,"u":8,"cum":4.05},{"d":240,"u":0,"cum":0.45},{"d":240,"u":2,"cum":1.84},{"d":240,"u":4,"cum":3.97},{"d":240,"u":6,"cum":4.83},{"d":240,"u":8,"cum":5.0},{"d":250,"u":0,"cum":0.48},{"d":250,"u":2,"cum":2.2},{"d":250,"u":4,"cum":4.7},{"d":250,"u":6,"cum":5.98},{"d":250,"u":8,"cum":6.27},{"d":260,"u":0,"cum":0.5},{"d":260,"u":2,"cum":2.17},{"d":260,"u":4,"cum":4.98},{"d":260,"u":6,"cum":6.65},{"d":260,"u":8,"cum":7.15},{"d":260,"u":10,"cum":7.26},{"d":270,"u":0,"cum":0.51},{"d":270,"u":2,"cum":2.37},{"d":270,"u":4,"cum":4.98},{"d":270,"u":6,"cum":6.54},{"d":270,"u":8,"cum":7.02},{"d":270,"u":10,"cum":7.16},{"d":280,"u":0,"cum":0.5},{"d":280,"u":2,"cum":2.25},{"d":280,"u":4,"cum":4.78},{"d":280,"u":6,"cum":6.42},{"d":280,"u":8,"cum":6.85},{"d":280,"u":10,"cum":6.93},{"d":290,"u":0,"cum":0.5},{"d":290,"u":2,"cum":2.11},{"d":290,"u":4,"cum":4.59},{"d":290,"u":6,"cum":6.05},{"d":290,"u":8,"cum":6.34},{"d":300,"u":0,"cum":0.48},{"d":300,"u":2,"cum":1.9},{"d":300,"u":4,"cum":4.12},{"d":300,"u":6,"cum":5.14},{"d":300,"u":8,"cum":5.27},{"d":310,"u":0,"cum":0.48},{"d":310,"u":2,"cum":1.78},{"d":310,"u":4,"cum":3.25},{"d":310,"u":6,"cum":3.85},{"d":310,"u":8,"cum":3.9},{"d":310,"u":10,"cum":3.95},{"d":320,"u":0,"cum":0.45},{"d":320,"u":2,"cum":1.22},{"d":320,"u":4,"cum":2.31},{"d":320,"u":6,"cum":2.6},{"d":320,"u":8,"cum":2.72},{"d":330,"u":0,"cum":0.45},{"d":330,"u":2,"cum":1.14},{"d":330,"u":4,"cum":1.84},{"d":330,"u":6,"cum":2.0},{"d":340,"u":0,"cum":0.45},{"d":340,"u":2,"cum":1.02},{"d":340,"u":4,"cum":1.61},{"d":340,"u":6,"cum":1.69},{"d":350,"u":0,"cum":0.42},{"d":350,"u":2,"cum":0.83},{"d":350,"u":4,"cum":1.22}],
"w5":[{"d":0,"u":0,"cum":0.31},{"d":0,"u":2,"cum":1.0},{"d":0,"u":4,"cum":1.37},{"d":10,"u":0,"cum":0.35},{"d":10,"u":2,"cum":1.0},{"d":10,"u":4,"cum":1.5},{"d":10,"u":6,"cum":1.56},{"d":20,"u":0,"cum":0.38},{"d":20,"u":2,"cum":1.11},{"d":20,"u":4,"cum":1.93},{"d":20,"u":6,"cum":2.13},{"d":30,"u":0,"cum":0.4},{"d":30,"u":2,"cum":1.17},{"d":30,"u":4,"cum":2.48},{"d":30,"u":6,"cum":2.97},{"d":40,"u":0,"cum":0.42},{"d":40,"u":2,"cum":1.28},{"d":40,"u":4,"cum":2.88},{"d":40,"u":6,"cum":3.46},{"d":50,"u":0,"cum":0.42},{"d":50,"u":2,"cum":1.19},{"d":50,"u":4,"cum":2.8},{"d":50,"u":6,"cum":3.5},{"d":60,"u":0,"cum":0.42},{"d":60,"u":2,"cum":1.15},{"d":60,"u":4,"cum":2.44},{"d":60,"u":6,"cum":2.95},{"d":70,"u":0,"cum":0.4},{"d":70,"u":2,"cum":1.05},{"d":70,"u":4,"cum":2.15},{"d":70,"u":6,"cum":2.35},{"d":80,"u":0,"cum":0.36},{"d":80,"u":2,"cum":0.86},{"d":80,"u":4,"cum":1.48},{"d":80,"u":6,"cum":1.6},{"d":80,"u":8,"cum":1.62},{"d":90,"u":0,"cum":0.27},{"d":90,"u":2,"cum":0.84},{"d":90,"u":4,"cum":1.21},{"d":100,"u":0,"cum":0.28},{"d":100,"u":2,"cum":0.9},{"d":100,"u":4,"cum":1.15},{"d":110,"u":0,"cum":0.28},{"d":110,"u":2,"cum":0.87},{"d":110,"u":4,"cum":1.17},{"d":120,"u":0,"cum":0.28},{"d":120,"u":2,"cum":0.86},{"d":120,"u":4,"cum":1.2},{"d":130,"u":0,"cum":0.3},{"d":130,"u":2,"cum":0.87},{"d":130,"u":4,"cum":1.31},{"d":140,"u":0,"cum":0.3},{"d":140,"u":2,"cum":0.89},{"d":140,"u":4,"cum":1.29},{"d":140,"u":6,"cum":1.32},{"d":150,"u":0,"cum":0.3},{"d":150,"u":2,"cum":0.97},{"d":150,"u":4,"cum":1.38},{"d":150,"u":6,"cum":1.44},{"d":160,"u":0,"cum":0.3},{"d":160,"u":2,"cum":0.95},{"d":160,"u":4,"cum":1.38},{"d":160,"u":6,"cum":1.41},{"d":170,"u":0,"cum":0.3},{"d":170,"u":2,"cum":0.9},{"d":170,"u":4,"cum":1.35},{"d":180,"u":0,"cum":0.31},{"d":180,"u":2,"cum":1.09},{"d":180,"u":4,"cum":1.4},{"d":180,"u":6,"cum":1.42},{"d":190,"u":0,"cum":0.33},{"d":190,"u":2,"cum":1.11},{"d":190,"u":4,"cum":1.68},{"d":190,"u":6,"cum":1.76},{"d":200,"u":0,"cum":0.38},{"d":200,"u":2,"cum":1.21},{"d":200,"u":4,"cum":1.6},{"d":200,"u":6,"cum":1.7},{"d":210,"u":0,"cum":0.42},{"d":210,"u":2,"cum":1.6},{"d":210,"u":4,"cum":2.25},{"d":210,"u":6,"cum":2.46},{"d":220,"u":0,"cum":0.42},{"d":220,"u":2,"cum":1.62},{"d":220,"u":4,"cum":2.66},{"d":220,"u":6,"cum":3.05},{"d":230,"u":0,"cum":0.44},{"d":230,"u":2,"cum":1.66},{"d":230,"u":4,"cum":3.53},{"d":230,"u":6,"cum":4.1},{"d":230,"u":8,"cum":4.15},{"d":240,"u":0,"cum":0.44},{"d":240,"u":2,"cum":1.98},{"d":240,"u":4,"cum":3.84},{"d":240,"u":6,"cum":4.66},{"d":240,"u":8,"cum":4.83},{"d":250,"u":0,"cum":0.46},{"d":250,"u":2,"cum":2.11},{"d":250,"u":4,"cum":4.62},{"d":250,"u":6,"cum":5.9},{"d":250,"u":8,"cum":6.22},{"d":260,"u":0,"cum":0.46},{"d":260,"u":2,"cum":2.38},{"d":260,"u":4,"cum":5.05},{"d":260,"u":6,"cum":6.48},{"d":260,"u":8,"cum":7.0},{"d":260,"u":10,"cum":7.13},{"d":270,"u":0,"cum":0.46},{"d":270,"u":2,"cum":2.1},{"d":270,"u":4,"cum":4.32},{"d":270,"u":6,"cum":5.66},{"d":270,"u":8,"cum":6.03},{"d":270,"u":10,"cum":6.15},{"d":280,"u":0,"cum":0.46},{"d":280,"u":2,"cum":2.17},{"d":280,"u":4,"cum":4.7},{"d":280,"u":6,"cum":6.31},{"d":280,"u":8,"cum":6.72},{"d":280,"u":10,"cum":6.84},{"d":290,"u":0,"cum":0.46},{"d":290,"u":2,"cum":2.07},{"d":290,"u":4,"cum":4.26},{"d":290,"u":6,"cum":5.5},{"d":290,"u":8,"cum":5.8},{"d":300,"u":0,"cum":0.44},{"d":300,"u":2,"cum":1.9},{"d":300,"u":4,"cum":3.85},{"d":300,"u":6,"cum":4.74},{"d":300,"u":8,"cum":4.92},{"d":310,"u":0,"cum":0.44},{"d":310,"u":2,"cum":1.64},{"d":310,"u":4,"cum":2.93},{"d":310,"u":6,"cum":3.6},{"d":310,"u":8,"cum":3.72},{"d":320,"u":0,"cum":0.44},{"d":320,"u":2,"cum":1.46},{"d":320,"u":4,"cum":2.4},{"d":320,"u":6,"cum":2.7},{"d":320,"u":8,"cum":2.76},{"d":330,"u":0,"cum":0.44},{"d":330,"u":2,"cum":1.09},{"d":330,"u":4,"cum":1.85},{"d":330,"u":6,"cum":1.95},{"d":330,"u":8,"cum":1.99},{"d":340,"u":0,"cum":0.44},{"d":340,"u":2,"cum":1.07},{"d":340,"u":4,"cum":1.44},{"d":340,"u":6,"cum":1.5},{"d":350,"u":0,"cum":0.4},{"d":350,"u":2,"cum":1.05},{"d":350,"u":4,"cum":1.66}]
}}
